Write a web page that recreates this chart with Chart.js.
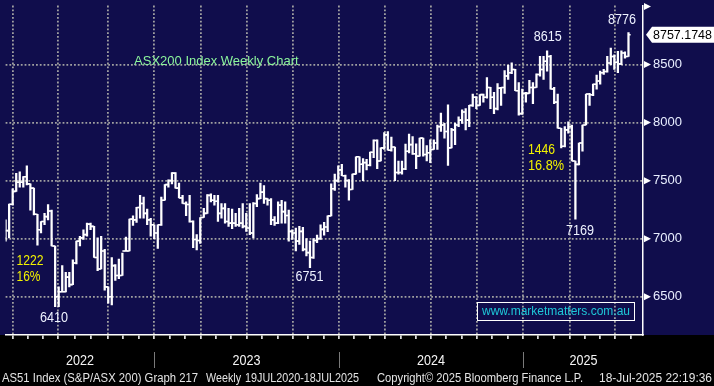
<!DOCTYPE html>
<html>
<head>
<meta charset="utf-8">
<script src="https://cdn.jsdelivr.net/npm/chart.js@4.4.1/dist/chart.umd.min.js"></script>
<style>
  html, body { margin: 0; padding: 0; background: #000; }
  #wrap { width: 714px; height: 386px; }
</style>
</head>
<body>
<div id="wrap"><canvas id="chart" width="714" height="386"></canvas></div>
<script>
// ASX200 weekly bars.
// x = week number, 0 = first bar on screen (Mar 2022), 176 = week ending 18 Jul 2025

const opens = [
  7007, 7069, 7297, 7407, 7486, 7486, 7534, 7472, 7435, 7210,
  7077, 7148, 7190, 7238, 6937, 6500, 6542, 6542, 6669, 6604,
  6790, 6979, 7007, 7035, 7125, 7106, 6838, 6739, 6894, 6585,
  6500, 6768, 6683, 6683, 6894, 6894, 7168, 7162, 7269, 7303,
  7218, 7162, 7120, 7049, 7120, 7331, 7466, 7500, 7565, 7435,
  7351, 7303, 7294, 7148, 6993, 6984, 7182, 7218, 7373, 7331,
  7322, 7218, 7261, 7148, 7134, 7134, 7120, 7134, 7106, 7092,
  7049, 7303, 7345, 7401, 7345, 7331, 7162, 7134, 7289, 7233,
  7200, 7063, 7049, 6979, 7063, 6908, 6880, 6838, 6984, 7000,
  7080, 7100, 7196, 7430, 7500, 7593, 7542, 7500, 7424, 7556,
  7706, 7641, 7655, 7632, 7745, 7846, 7669, 7782, 7894, 7762,
  7790, 7570, 7570, 7600, 7753, 7810, 7731, 7711, 7866, 7725,
  7740, 7768, 7824, 7965, 7979, 7923, 7782, 7937, 7979, 8021,
  8091, 8021, 8148, 8218, 8148, 8241, 8218, 8303, 8218, 8120,
  8297, 8303, 8401, 8430, 8458, 8275, 8077, 8252, 8252, 8303,
  8303, 8415, 8458, 8528, 8570, 8289, 8176, 7951, 7796, 7937,
  7965, 7669, 7640, 7824, 7979, 8246, 8240, 8331, 8359, 8430,
  8440, 8514, 8570, 8520, 8506, 8600, 8570
];
const highs = [
  7162, 7297, 7430, 7562, 7576, 7534, 7627, 7472, 7435, 7210,
  7148, 7218, 7294, 7246, 6937, 6585, 6768, 6711, 6711, 6818,
  6979, 7021, 7077, 7134, 7134, 7106, 7007, 7021, 6908, 6585,
  6838, 6776, 6824, 6875, 7013, 7168, 7196, 7269, 7373, 7359,
  7255, 7176, 7120, 7120, 7359, 7466, 7506, 7570, 7570, 7478,
  7373, 7317, 7373, 7154, 7035, 7182, 7261, 7379, 7387, 7373,
  7373, 7303, 7303, 7261, 7255, 7218, 7261, 7303, 7218, 7303,
  7310, 7379, 7478, 7458, 7345, 7345, 7190, 7317, 7331, 7317,
  7247, 7077, 7092, 7106, 7097, 7001, 6979, 7001, 7030, 7120,
  7140, 7196, 7472, 7556, 7627, 7641, 7548, 7508, 7556, 7706,
  7706, 7689, 7683, 7745, 7852, 7852, 7782, 7914, 7922, 7875,
  7790, 7669, 7669, 7815, 7900, 7880, 7818, 7866, 7866, 7801,
  7852, 7852, 7979, 8083, 7993, 8153, 7951, 7993, 8049, 8111,
  8120, 8148, 8246, 8224, 8241, 8246, 8387, 8303, 8260, 8336,
  8303, 8449, 8494, 8514, 8458, 8345, 8289, 8260, 8365, 8345,
  8421, 8570, 8570, 8618, 8580, 8303, 8246, 7951, 7965, 8007,
  7979, 7669, 7824, 7979, 8246, 8252, 8331, 8410, 8444, 8458,
  8570, 8641, 8584, 8613, 8618, 8610, 8776
];
const lows = [
  6979, 7007, 7289, 7407, 7444, 7444, 7463, 7246, 7204, 6945,
  7049, 7120, 7162, 6937, 6415, 6415, 6542, 6542, 6585, 6604,
  6782, 6937, 6993, 7021, 7077, 6838, 6725, 6739, 6556, 6444,
  6430, 6641, 6655, 6683, 6894, 6894, 7114, 7140, 7176, 7176,
  7120, 7021, 7001, 6917, 7114, 7331, 7444, 7472, 7435, 7351,
  7303, 7199, 7142, 6923, 6903, 6959, 7182, 7218, 7317, 7289,
  7148, 7176, 7134, 7106, 7086, 7106, 7106, 7092, 7063, 7035,
  7007, 7275, 7345, 7303, 7289, 7120, 7114, 7130, 7134, 7134,
  6979, 6993, 6894, 6951, 6894, 6852, 6751, 6830, 6965, 6993,
  7030, 7060, 7196, 7415, 7486, 7542, 7443, 7331, 7424, 7556,
  7570, 7500, 7593, 7627, 7697, 7604, 7669, 7768, 7762, 7753,
  7500, 7556, 7556, 7595, 7739, 7725, 7604, 7711, 7711, 7669,
  7655, 7768, 7768, 7923, 7866, 7632, 7782, 7810, 7965, 7993,
  7937, 7965, 8140, 8120, 8148, 8176, 8210, 8120, 8077, 8110,
  8148, 8252, 8373, 8421, 8275, 8063, 8070, 8176, 8252, 8162,
  8303, 8401, 8373, 8444, 8289, 8162, 7951, 7782, 7790, 7908,
  7669, 7169, 7635, 7754, 7979, 8148, 8232, 8289, 8331, 8415,
  8435, 8500, 8458, 8430, 8500, 8556, 8570
];
const closes = [
  7069, 7297, 7407, 7486, 7486, 7534, 7472, 7435, 7210, 7077,
  7148, 7190, 7238, 6937, 6500, 6542, 6542, 6669, 6604, 6790,
  6979, 7007, 7035, 7125, 7106, 6838, 6739, 6894, 6585, 6500,
  6768, 6683, 6683, 6894, 6894, 7168, 7162, 7269, 7303, 7218,
  7162, 7120, 7049, 7120, 7331, 7466, 7500, 7565, 7435, 7351,
  7303, 7294, 7148, 6993, 6984, 7182, 7218, 7373, 7331, 7322,
  7218, 7261, 7148, 7134, 7134, 7120, 7134, 7106, 7092, 7049,
  7303, 7345, 7401, 7345, 7331, 7162, 7134, 7289, 7233, 7200,
  7063, 7049, 6979, 7063, 6908, 6880, 6838, 6984, 7000, 7080,
  7100, 7196, 7430, 7500, 7593, 7542, 7500, 7424, 7556, 7706,
  7641, 7655, 7632, 7745, 7846, 7669, 7782, 7894, 7762, 7790,
  7570, 7570, 7600, 7753, 7810, 7731, 7711, 7866, 7725, 7740,
  7768, 7824, 7965, 7979, 7923, 7782, 7937, 7979, 8021, 8091,
  8021, 8148, 8218, 8148, 8241, 8218, 8303, 8218, 8120, 8297,
  8303, 8401, 8430, 8458, 8275, 8077, 8252, 8252, 8303, 8303,
  8415, 8458, 8528, 8570, 8289, 8176, 7951, 7796, 7937, 7965,
  7669, 7640, 7824, 7979, 8246, 8240, 8331, 8359, 8430, 8440,
  8514, 8570, 8520, 8506, 8600, 8570, 8757
];
const lastPrice = 8757.1748;

// axis ticks (x in weeks from first bar)
const monthTicks = [
  1.96, 6.2, 10.5, 14.85, 19.5, 24.2, 28.85, 33.2, 37.6, 42.0,
  46.4, 50.8, 55.2, 59.5, 63.8, 68.1, 72.5, 76.8, 81.2, 85.5,
  89.8, 94.1, 98.5, 102.9, 107.3, 111.6, 115.9, 120.2, 124.5, 128.9,
  133.2, 137.5, 141.8, 146.1, 150.5, 155.0, 159.4, 163.7, 168.0, 172.3, 176.6
];
const quarterTicks = [1.96, 14.85, 28.85, 42.0, 55.2, 68.1, 81.2, 94.1, 107.3, 120.2, 133.2, 146.1, 159.4, 172.3];
const yearLabels = ['2022', '2023', '2024', '2025'];
const yearCentres = [21.0, 68.1, 120.2, 163.3];
const yearBreaks = [42.0, 94.1, 146.1];
const yTicks = [6250, 6500, 6750, 7000, 7250, 7500, 7750, 8000, 8250, 8500, 8750, 9000];
const yMajor = [6500, 7000, 7500, 8000, 8500, 9000];
const yLabelled = [6500, 7000, 7500, 8000, 8500];

const footerParts = [
  'AS51 Index (S&P/ASX 200) Graph 217',
  'Weekly',
  '19JUL2020-18JUL2025',
  'Copyright\u00a9 2025 Bloomberg Finance L.P.',
  '18-Jul-2025 22:19:36'
];

// ---- look ----
const NAVY = '#100d4c';
const GRID = '#a0a0a0';
const FONT = '"Liberation Sans", Arial, sans-serif';
const X_MAX = 180.1;
const Y_MIN = 6170, Y_MAX = 9008;
const TICK_SHIFT = 0.3; // open tick left, close tick right (weeks)

// annotation text, placed in data coordinates
const notes = [
  { text: 'ASX200 Index Weekly Chart', x: 36.3, y: 8528, align: 'left', color: '#8cf59c', size: 13 },
  { text: '8615', x: 153.2, y: 8737, align: 'center', color: '#eef2ff', size: 14, w: 28 },
  { text: '8776', x: 174.2, y: 8881, align: 'center', color: '#eef2ff', size: 14, w: 28 },
  { text: '1446', x: 147.6, y: 7765, align: 'left', color: '#f2f200', size: 14, w: 27 },
  { text: '16.8%', x: 147.6, y: 7625, align: 'left', color: '#f2f200', size: 14, w: 36 },
  { text: '1222', x: 3.08, y: 6805, align: 'left', color: '#f2f200', size: 14, w: 27 },
  { text: '16%', x: 3.08, y: 6670, align: 'left', color: '#f2f200', size: 14, w: 24 },
  { text: '6410', x: 13.7, y: 6311, align: 'center', color: '#eef2ff', size: 14, w: 28 },
  { text: '6751', x: 85.9, y: 6670, align: 'center', color: '#eef2ff', size: 14, w: 28 },
  { text: '7169', x: 162.3, y: 7068, align: 'center', color: '#eef2ff', size: 14, w: 28 }
];

const near = (list, v) => list.some(q => Math.abs(q - v) < 0.01);

// navy plot + axis panel, black strip underneath
const backdrop = {
  id: 'backdrop',
  beforeDraw(chart) {
    const { ctx, chartArea } = chart;
    ctx.save();
    ctx.fillStyle = '#000';
    ctx.fillRect(0, 0, chart.width, chart.height);
    ctx.fillStyle = NAVY;
    ctx.fillRect(0, 0, chart.width, chartArea.bottom);
    ctx.restore();
  }
};

const overlay = {
  id: 'overlay',
  afterDraw(chart) {
    const { ctx, chartArea: a, scales: { x, y } } = chart;
    ctx.save();

    // arrow heads on major price ticks
    ctx.fillStyle = '#fff';
    yMajor.forEach(v => {
      const py = y.getPixelForValue(v);
      ctx.beginPath();
      ctx.moveTo(a.right + 1, py - 3.5);
      ctx.lineTo(a.right + 8, py);
      ctx.lineTo(a.right + 1, py + 3.5);
      ctx.closePath();
      ctx.fill();
    });

    // last price flag
    const lp = y.getPixelForValue(lastPrice);
    ctx.beginPath();
    ctx.moveTo(a.right + 3, lp);
    ctx.lineTo(a.right + 9, lp - 8);
    ctx.lineTo(chart.width, lp - 8);
    ctx.lineTo(chart.width, lp + 8);
    ctx.lineTo(a.right + 9, lp + 8);
    ctx.closePath();
    ctx.fill();
    ctx.fillStyle = '#000';
    ctx.font = '13px ' + FONT;
    ctx.textBaseline = 'middle';
    ctx.textAlign = 'left';
    ctx.fillText(lastPrice.toFixed(4), a.right + 10, lp + 1, 59);

    // notes on the chart
    notes.forEach(n => {
      ctx.font = n.size + 'px ' + FONT;
      ctx.fillStyle = n.color;
      ctx.textAlign = n.align;
      const px = x.getPixelForValue(n.x), py = y.getPixelForValue(n.y);
      if (n.w) ctx.fillText(n.text, px, py, n.w);
      else ctx.fillText(n.text, px, py);
    });

    // website box
    ctx.strokeStyle = '#fff';
    ctx.lineWidth = 1;
    ctx.strokeRect(a.right - 165.5, a.bottom - 32.5, 157, 18);
    ctx.fillStyle = '#1ec8d8';
    ctx.font = '12px ' + FONT;
    ctx.textAlign = 'center';
    ctx.fillText('www.marketmatters.com.au', a.right - 87, a.bottom - 23, 154);

    // year labels + separators
    ctx.fillStyle = '#f4f4f4';
    ctx.font = '14px ' + FONT;
    yearLabels.forEach((t, i) => {
      ctx.fillText(t, x.getPixelForValue(yearCentres[i]), a.bottom + 26, 28);
    });
    ctx.strokeStyle = '#7a7a7a';
    ctx.lineWidth = 1;
    yearBreaks.forEach(v => {
      const px = Math.round(x.getPixelForValue(v)) + 0.5;
      ctx.beginPath();
      ctx.moveTo(px, a.bottom + 17);
      ctx.lineTo(px, a.bottom + 33);
      ctx.stroke();
    });

    // footer line
    ctx.fillStyle = '#e4e4e4';
    ctx.font = '12.5px ' + FONT;
    ctx.textAlign = 'left';
    const fx = [2, 206, 245, 377, 599];
    const fw = [196, 35, 114, 206, 113];
    footerParts.forEach((t, i) => ctx.fillText(t, fx[i], a.bottom + 43.5, fw[i]));

    ctx.restore();
  }
};

const barData = highs.map((h, i) => ({ x: i, y: [lows[i], h] }));
const tickData = [];
opens.forEach((o, i) => tickData.push({ x: i - TICK_SHIFT, y: o }));
closes.forEach((c, i) => tickData.push({ x: i + TICK_SHIFT, y: c }));

new Chart(document.getElementById('chart'), {
  type: 'bar',
  data: {
    datasets: [
      {
        type: 'bar',
        data: barData,
        backgroundColor: '#ffffff',
        borderWidth: 0,
        barThickness: 1.6,
        grouped: false
      },
      {
        type: 'scatter',
        data: tickData,
        pointStyle: 'line',
        pointRadius: 1.1,
        borderColor: '#ffffff',
        borderWidth: 1.6,
        showLine: false
      }
    ]
  },
  options: {
    responsive: false,
    devicePixelRatio: 1,
    animation: false,
    events: [],
    layout: { padding: 0 },
    plugins: { legend: { display: false }, tooltip: { enabled: false } },
    scales: {
      x: {
        type: 'linear',
        position: 'bottom',
        min: 0,
        max: X_MAX,
        offset: false,
        afterBuildTicks: s => { s.ticks = monthTicks.map(v => ({ value: v })); },
        afterFit: s => { s.height = 51; s.paddingLeft = 0; s.paddingRight = 0; },
        ticks: { display: false, autoSkip: false },
        grid: {
          offset: false,
          color: c => (c.tick && near(quarterTicks, c.tick.value)) ? GRID : 'transparent',
          lineWidth: 1.8,
          drawTicks: true,
          tickLength: 4,
          tickColor: '#ffffff',
          tickWidth: 1.5
        },
        border: { display: true, color: '#ffffff', width: 1.5, dash: [1.8, 2] }
      },
      y: {
        type: 'linear',
        position: 'right',
        min: Y_MIN,
        max: Y_MAX,
        beginAtZero: false,
        afterBuildTicks: s => { s.ticks = yTicks.map(v => ({ value: v })); },
        afterFit: s => { s.width = 71; s.paddingTop = 0; s.paddingBottom = 0; },
        ticks: {
          autoSkip: false,
          padding: 5,
          color: '#e8eeff',
          font: { family: FONT, size: 13 },
          callback: v => near(yLabelled, v) ? String(v) : null
        },
        grid: {
          color: c => (c.tick && near(yMajor, c.tick.value)) ? GRID : 'transparent',
          lineWidth: 1.8,
          tickLength: 5,
          tickColor: c => (c.tick && near(yMajor, c.tick.value)) ? 'transparent' : '#ffffff',
          tickWidth: 1.5
        },
        border: { display: true, color: '#ffffff', width: 1.5, dash: [1.8, 2] }
      }
    }
  },
  plugins: [backdrop, overlay]
});
</script>
</body>
</html>
